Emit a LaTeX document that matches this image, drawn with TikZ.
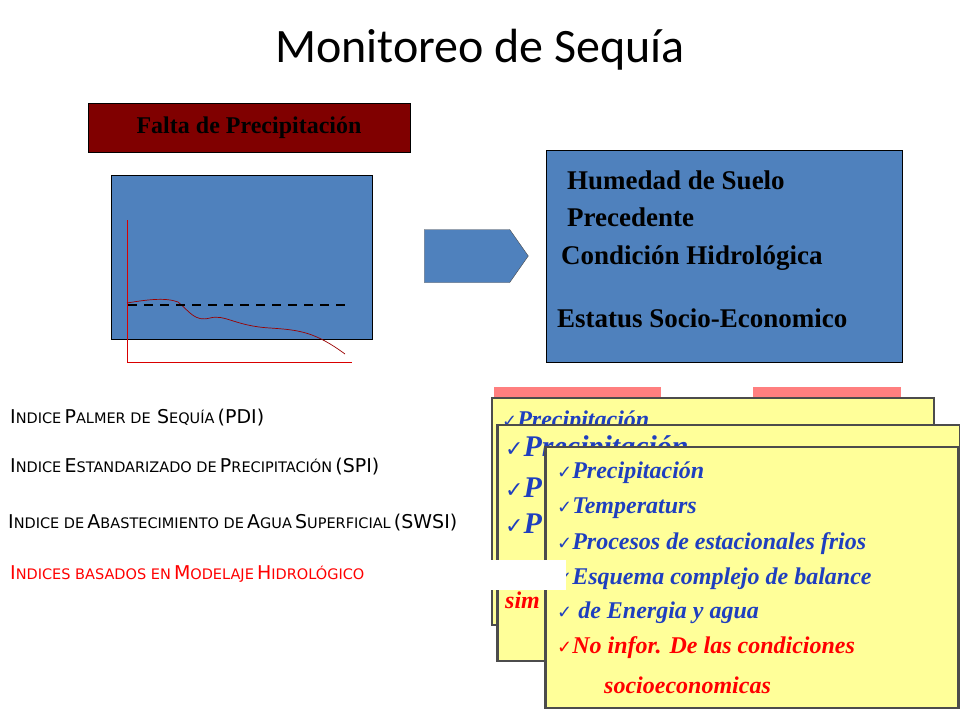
\documentclass[tikz,border=0pt]{standalone}
\usepackage{fontspec}
\setmainfont{Liberation Serif}
\newfontfamily\titlefont{Carlito}
\newfontfamily\capfont{DejaVu Sans}
\newfontfamily\chk{DejaVu Sans}
\newcommand\Bg[1]{{\fontsize{19}{20}\selectfont #1}}
\newcommand\Sm[1]{{\fontsize{14.5}{16}\selectfont #1}}
\usetikzlibrary{shapes.arrows}
\definecolor{slateblue}{HTML}{4F81BD}
\definecolor{yel}{HTML}{FFFF99}
\definecolor{pinktab}{HTML}{FF7F7F}
\definecolor{txtblue}{HTML}{1F3FBF}
\tikzset{
 bluebox/.style={draw=black,fill=slateblue},
 ybox/.style={draw=black!70,fill=yel,double=black!70,double distance=1.5pt,line width=0.6pt},
 bt/.style={anchor=west,font=\fontsize{27}{30}\selectfont\bfseries,inner sep=0},
 it/.style={anchor=west,font=\fontsize{24}{26}\selectfont\bfseries\itshape,text=txtblue,inner sep=0},
 lt/.style={anchor=west,font=\capfont,inner sep=0},
}
\begin{document}
\begin{tikzpicture}[x=1pt,y=-1pt]
\useasboundingbox (0,0) rectangle (960,720);
\node[font=\titlefont\fontsize{48}{50}\selectfont] (title) at (480,50) {Monitoreo de Sequía};
\node[draw=black,fill=black!0!red!50!black,minimum width=322,minimum height=49,inner sep=0,font=\fontsize{24}{26}\selectfont\bfseries] (falta) at (249,127.5) {Falta de Precipitación};
\node[bluebox,minimum width=261,minimum height=164,inner sep=0] (graph) at (241.5,257) {};
\draw[red!85!black,line width=0.7] (127,220) -- (127,362) -- (352,362);
\draw[red!60!black,line width=0.7] (127,303) .. controls (145,300) and (165,297) .. (178,302) .. controls (190,312) and (195,322) .. (210,318) .. controls (225,314) and (235,326) .. (270,328) .. controls (300,330) and (315,332) .. (345,354);
\draw[black,line width=2.2,dash pattern=on 9pt off 7pt] (128,305) -- (348,305);
\node[single arrow,draw=black!70,fill=slateblue,minimum height=104,minimum width=53,single arrow head extend=0pt,single arrow tip angle=110,inner sep=0,shape border rotate=0] (arr) at (467,256) {};
\node[bluebox,minimum width=356,minimum height=212,inner sep=0] (hum) at (724,256) {};
\node[bt] (t1) at (567,180) {Humedad de Suelo};
\node[bt] (t2) at (567,217) {Precedente};
\node[bt] (t3) at (561,258) {Condición Hidrológica};
\node[bt] (t4) at (557,318) {Estatus Socio-Economico};
\fill[pinktab] (494,387) rectangle (661,398);
\fill[pinktab] (753,387) rectangle (901,398);
\node[ybox,minimum width=442,minimum height=227,inner sep=0] (y1) at (713,511.5) {};
\node[it] (y1a) at (502,422) {{\chk\fontsize{18}{18}\selectfont ✓}Precipitación};
\node[ybox,minimum width=463,minimum height=236,inner sep=0] (y2) at (729,543) {};
\node[it,font=\fontsize{30}{30}\selectfont\bfseries\itshape] (y2a) at (505,449) {{\chk\fontsize{22}{22}\selectfont ✓}Precipitación};
\node[it,font=\fontsize{30}{30}\selectfont\bfseries\itshape] (y2b) at (505,488) {{\chk\fontsize{22}{22}\selectfont ✓}P};
\node[it,font=\fontsize{30}{30}\selectfont\bfseries\itshape] (y2c) at (505,524) {{\chk\fontsize{22}{22}\selectfont ✓}P};
\node[it,text=red,font=\fontsize{24}{26}\selectfont\bfseries\itshape] (y2d) at (505,600) {sim};
\node[ybox,minimum width=413,minimum height=261,inner sep=0] (y3) at (752,577.5) {};
\node[it] (l1) at (557,473) {{\chk\fontsize{18}{18}\selectfont ✓}Precipitación};
\node[it] (l2) at (557,508) {{\chk\fontsize{18}{18}\selectfont ✓}Temperaturs};
\node[it] (l3) at (557,544) {{\chk\fontsize{18}{18}\selectfont ✓}Procesos de estacionales frios};
\node[it] (l4) at (557,579) {{\chk\fontsize{18}{18}\selectfont ✓}Esquema complejo de balance};
\node[it] (l5) at (557,613) {{\chk\fontsize{18}{18}\selectfont ✓} de Energia y agua};
\node[it,text=red] (l6) at (557,648) {{\chk\fontsize{18}{18}\selectfont ✓}No infor. De las condiciones};
\node[it,text=red] (l7) at (604,685) {socioeconomicas};
\node[lt] (p1) at (10,418) {\Bg{I}\Sm{NDICE} \Bg{P}\Sm{ALMER DE} \ \Bg{S}\Sm{EQUÍA} \Bg{(PDI)}};
\node[lt] (p2) at (10,467) {\Bg{I}\Sm{NDICE} \Bg{E}\Sm{STANDARIZADO DE} \Bg{P}\Sm{RECIPITACIÓN} \Bg{(SPI)}};
\node[lt] (p3) at (8,523) {\Bg{I}\Sm{NDICE DE} \Bg{A}\Sm{BASTECIMIENTO DE} \Bg{A}\Sm{GUA} \Bg{S}\Sm{UPERFICIAL} \Bg{(SWSI)}};
\fill[white] (0,560) rectangle (566,590);
\node[lt,text=red] (p4) at (10,574) {\Bg{I}\Sm{NDICES BASADOS EN} \Bg{M}\Sm{ODELAJE} \Bg{H}\Sm{IDROLÓGICO}};
\end{tikzpicture}
\end{document}
